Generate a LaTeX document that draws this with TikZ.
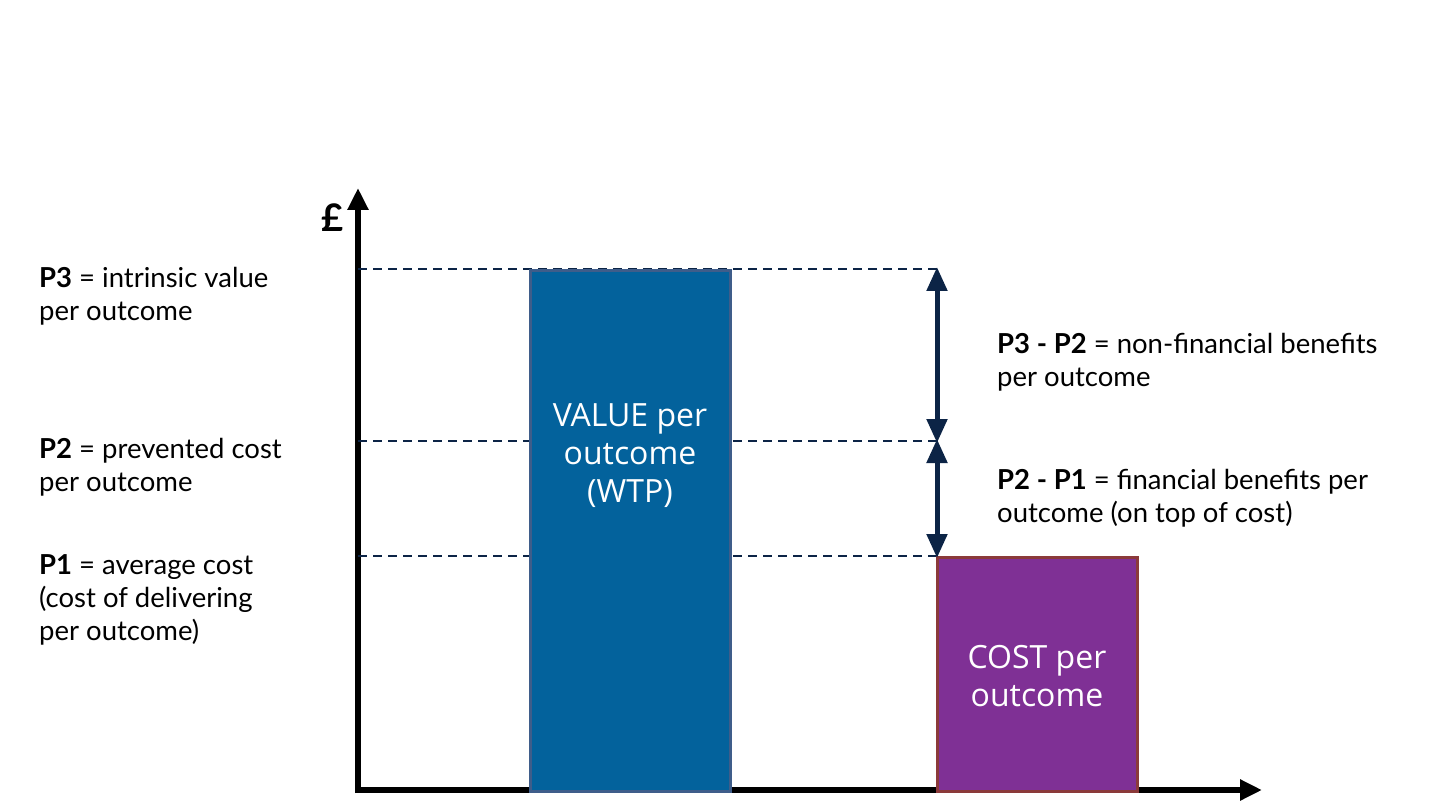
\documentclass[tikz,border=0pt]{standalone}
\usepackage{fontspec}
\setmainfont{Lato}
\newfontfamily\boxfont{Open Sans}
\usepackage{tikz}
\usetikzlibrary{arrows.meta}

\definecolor{valueblue}{HTML}{03629C}
\definecolor{valueedge}{HTML}{3F5D8A}
\definecolor{costpurple}{HTML}{7F3095}
\definecolor{costedge}{HTML}{8B3A3A}
\definecolor{navy}{HTML}{0C2446}

\begin{document}
\begin{tikzpicture}[
                    x=1pt, y=-1pt,
                    axis/.style={line width=6pt, -{Triangle[length=22pt,width=20pt]}},
                    level/.style={navy, line width=1.5pt, dash pattern=on 9pt off 6pt},
                    gap/.style={navy, line width=5pt, {Triangle[length=24pt,width=20pt]}-{Triangle[length=24pt,width=20pt]}, shorten <=-2pt, shorten >=-2pt},
                    bar/.style={rectangle, line width=3pt, minimum width=200pt, inner sep=0pt},
                    bartext/.style={text=white, align=center, font=\boxfont\fontsize{32}{38}\selectfont},
                    label/.style={anchor=west, align=left, inner sep=0pt, font=\fontsize{27.5}{33}\selectfont},
                ]
                \useasboundingbox (0,0) rectangle (1440,810);

                % axes
                \coordinate (origin) at (358,790);
                \coordinate (ytip) at (358,188);
                \coordinate (xtip) at (1262,790);
                \draw[axis] ([yshift=-3pt]origin) -- (ytip);
                \draw[axis] ([xshift=-3pt]origin) -- (xtip);
                \node[font=\fontsize{38}{38}\selectfont\bfseries] (pound) at (333,218) {£};

                % price levels
                \coordinate (p3) at (937,269);
                \coordinate (p2) at (937,441);
                \coordinate (p1) at (937,556);
                \draw[level] (358,269) -- (p3);
                \draw[level] (358,441) -- (p2);
                \draw[level] (358,556) -- (p1);

                % bars
                \node[bar, draw=valueedge, fill=valueblue, minimum height=521pt, anchor=north] (value) at (630,269) {};
                \node[bar, draw=costedge, fill=costpurple, minimum height=234pt, anchor=north] (cost) at (1037,556) {};
                \node[bartext] (valuetext) at (630,456) {VALUE per\\ outcome\\ (WTP)};
                \node[bartext] (costtext) at (1037,676) {COST per\\ outcome};

                % gaps between levels
                \draw[gap] (p3) -- (p2);
                \draw[gap] (p2) -- (p1);

                % labels
                \node[label] (l3) at (39,296) {\textbf{P3} = intrinsic value\\ per outcome};
                \node[label] (l2) at (39,467) {\textbf{P2} = prevented cost\\ per outcome};
                \node[label] (l1) at (39,600) {\textbf{P1} = average cost\\ (cost of delivering\\ per outcome)};
                \node[label] (r32) at (997,362) {\textbf{P3 - P2} = non-financial benefits\\ per outcome};
                \node[label] (r21) at (997,498) {\textbf{P2 - P1} = financial benefits per\\ outcome (on top of cost)};
            \end{tikzpicture}
\end{document}
